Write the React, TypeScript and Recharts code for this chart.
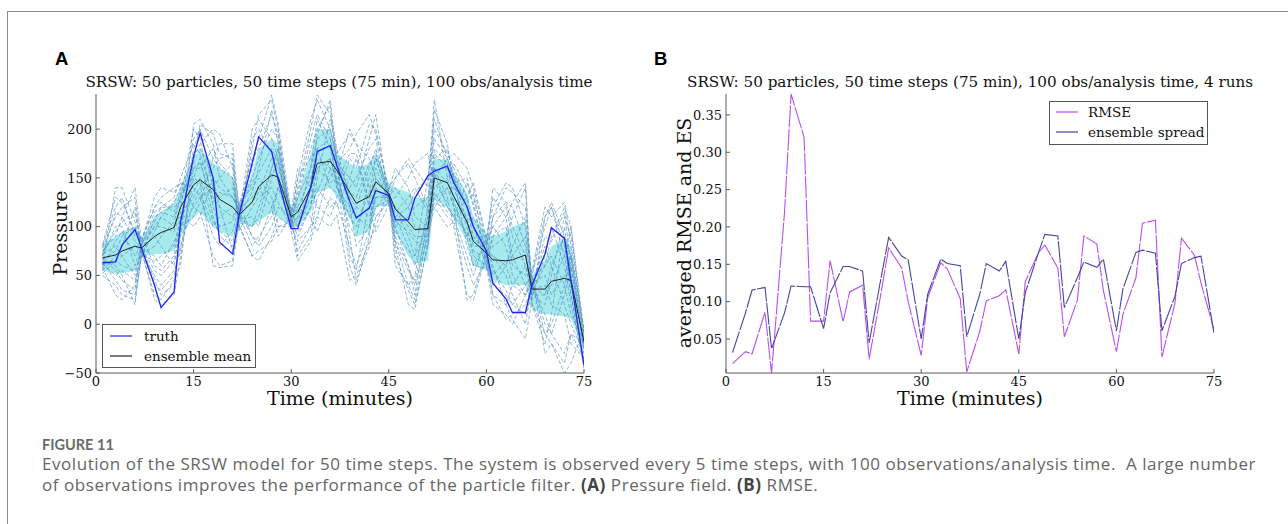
import React from "react"
import { Area, ComposedChart, Line, XAxis, YAxis } from "recharts"

// model output times (minutes), one per time step
const times = [1, 3, 4, 6, 7, 9, 10, 12, 13, 15, 16, 18, 19, 21, 22, 24, 25, 27, 28, 30, 31, 33, 34, 36, 37, 39, 40, 42, 43, 45, 46, 48, 49, 51, 52, 54, 55, 57, 58, 60, 61, 63, 64, 66, 67, 69, 70, 72, 73, 75]
const timeTicks = [0, 15, 30, 45, 60, 75]
const pressureTicks = [-50, 0, 50, 100, 150, 200]
const errorTicks = [0.05, 0.1, 0.15, 0.2, 0.25, 0.3, 0.35]

// panel A
const truth = [63, 64, 81, 97, 78, 40, 17, 33, 105, 172, 196, 150, 84, 72, 112, 165, 192, 177, 148, 98, 98, 140, 177, 183, 163, 126, 109, 119, 137, 132, 107, 107, 129, 152, 157, 162, 145, 121, 100, 75, 42, 26, 12, 12, 40, 72, 99, 88, 45, -42]
const ensembleMean = [68, 71, 75, 80, 78, 90, 94, 99, 120, 143, 148, 138, 128, 120, 112, 125, 141, 153, 151, 110, 115, 140, 165, 167, 158, 135, 124, 131, 146, 134, 118, 105, 97, 98, 150, 145, 131, 105, 85, 73, 66, 65, 66, 71, 36, 36, 44, 47, 45, -18]
const bandLow = [55, 52, 52, 55, 70, 72, 72, 75, 90, 110, 115, 100, 95, 90, 105, 100, 105, 115, 110, 100, 100, 115, 135, 140, 130, 110, 90, 95, 120, 122, 95, 70, 62, 65, 128, 120, 110, 85, 60, 55, 45, 40, 40, 40, 15, 10, 10, 8, 5, -25]
const bandHigh = [82, 90, 95, 100, 88, 110, 115, 125, 140, 170, 180, 165, 160, 150, 120, 155, 180, 190, 185, 118, 130, 175, 200, 200, 175, 165, 160, 165, 175, 145, 140, 135, 130, 130, 170, 168, 155, 135, 110, 92, 90, 95, 100, 105, 50, 65, 80, 88, 80, -12]

const particles = [
    [60, 140, 140, 105, 80, 45, 30, 40, 90, 205, 210, 185, 150, 130, 115, 90, 80, 100, 120, 110, 150, 210, 230, 200, 170, 120, 80, 100, 150, 130, 100, 60, 40, 90, 170, 180, 150, 120, 90, 70, 30, 20, 40, 60, 40, 10, -10, 30, 60, -30],
    [75, 90, 110, 140, 85, 120, 130, 140, 145, 120, 115, 70, 60, 65, 105, 180, 215, 230, 200, 105, 75, 100, 150, 210, 175, 195, 185, 140, 120, 128, 150, 165, 150, 120, 130, 110, 105, 60, 40, 65, 110, 140, 135, 120, 45, 60, 90, 120, 100, -20],
    [50, 40, 30, 25, 70, 95, 110, 125, 140, 170, 185, 200, 195, 160, 100, 70, 65, 90, 110, 100, 130, 180, 200, 225, 160, 90, 45, 80, 110, 125, 80, 20, 15, 85, 150, 170, 175, 160, 140, 85, 60, 20, 5, -15, 25, 110, 125, 90, 30, -45],
    [65, 60, 50, 20, 75, 25, 20, 30, 70, 150, 170, 110, 90, 80, 120, 160, 190, 235, 205, 115, 160, 140, 120, 110, 130, 170, 160, 205, 200, 135, 60, 40, 50, 120, 220, 185, 140, 100, 70, 60, 20, 10, 0, 30, 50, -30, -20, -50, -40, -5],
    [80, 120, 130, 90, 90, 60, 55, 70, 110, 130, 140, 160, 170, 175, 110, 100, 120, 160, 180, 100, 95, 120, 180, 190, 140, 110, 120, 160, 180, 130, 140, 120, 100, 95, 130, 140, 120, 90, 110, 80, 100, 120, 90, 60, 30, 20, 50, 110, 90, -10],
    [55, 70, 80, 120, 72, 80, 90, 105, 130, 200, 190, 120, 100, 105, 125, 140, 150, 130, 100, 100, 110, 160, 210, 180, 150, 60, 40, 90, 140, 125, 110, 80, 60, 110, 200, 175, 160, 130, 100, 60, 40, 60, 80, 110, 35, 40, 20, 10, -20, -35],
    [70, 100, 100, 60, 82, 100, 100, 95, 115, 100, 110, 150, 140, 130, 118, 130, 140, 120, 90, 112, 70, 90, 130, 150, 165, 180, 195, 215, 195, 138, 160, 140, 110, 100, 125, 120, 110, 70, 50, 90, 130, 110, 70, 40, 50, 100, 120, 80, 40, -15],
    [62, 50, 55, 45, 68, 110, 115, 110, 130, 160, 160, 180, 165, 150, 98, 190, 200, 175, 150, 118, 120, 110, 95, 130, 120, 150, 170, 120, 95, 122, 100, 110, 120, 130, 175, 160, 145, 150, 120, 70, 80, 90, 110, 140, 22, -10, 0, 40, 70, -25],
    [72, 80, 70, 50, 78, 70, 60, 85, 95, 180, 200, 140, 130, 140, 108, 110, 100, 150, 170, 98, 140, 200, 235, 215, 180, 130, 120, 110, 130, 130, 90, 60, 30, 110, 160, 130, 100, 30, 25, 72, 70, 50, 30, 0, 40, 80, 60, 20, 0, -30],
    [58, 30, 25, 40, 85, 130, 140, 135, 145, 140, 130, 90, 80, 95, 120, 150, 170, 200, 190, 108, 90, 120, 160, 170, 145, 100, 90, 150, 170, 128, 130, 150, 165, 175, 145, 125, 130, 110, 80, 80, 55, 35, 20, 10, 28, 70, 100, 60, 20, -40],
    [78, 110, 120, 130, 76, 40, 35, 50, 80, 125, 135, 100, 110, 120, 112, 80, 90, 110, 140, 103, 120, 150, 170, 160, 155, 200, 185, 170, 150, 132, 120, 100, 90, 90, 120, 100, 105, 130, 145, 88, 120, 145, 140, 100, 48, 0, -10, -30, -10, -20],
    [66, 75, 90, 100, 80, 90, 80, 60, 100, 110, 125, 170, 185, 185, 115, 125, 135, 170, 160, 115, 100, 130, 140, 120, 125, 80, 60, 95, 120, 136, 70, 35, 20, 80, 140, 150, 165, 140, 125, 62, 30, 5, 10, 20, 38, 30, 40, 70, 100, -8],
    [52, 65, 70, 80, 74, 30, 25, 45, 60, 175, 180, 150, 120, 75, 102, 70, 75, 85, 100, 105, 150, 170, 180, 140, 135, 140, 150, 180, 190, 124, 95, 75, 70, 100, 180, 165, 125, 90, 60, 58, 90, 100, 60, 50, 55, 120, 110, 125, 80, -12],
    [82, 130, 125, 95, 88, 120, 125, 115, 135, 150, 145, 60, 58, 60, 110, 200, 210, 190, 170, 95, 65, 85, 110, 100, 112, 45, 50, 85, 100, 140, 150, 170, 160, 140, 230, 150, 120, 25, 30, 78, 140, 125, 120, 80, 20, -20, 10, 100, 50, -45],
    [68, 55, 45, 35, 80, 115, 120, 130, 150, 185, 175, 130, 120, 110, 125, 90, 85, 120, 140, 116, 135, 190, 215, 190, 165, 150, 140, 190, 215, 128, 120, 90, 70, 150, 190, 170, 150, 80, 60, 85, 100, 80, 50, 30, 42, 50, 30, 50, 70, -22],
    [74, 95, 105, 115, 79, 55, 50, 65, 100, 120, 130, 140, 150, 165, 122, 170, 180, 215, 195, 102, 110, 125, 135, 170, 145, 175, 175, 125, 110, 127, 105, 95, 85, 80, 160, 145, 155, 120, 100, 66, 50, 65, 70, 90, 33, 60, 70, 40, 10, -18],
    [57, 85, 95, 70, 83, 105, 120, 120, 125, 165, 205, 195, 175, 170, 96, 120, 130, 140, 125, 100, 85, 100, 110, 160, 140, 120, 110, 100, 130, 133, 85, 40, 25, 95, 135, 115, 110, 145, 130, 82, 110, 125, 100, 70, 36, 90, 85, 115, 60, -28],
    [64, 45, 35, 30, 71, 65, 70, 80, 110, 135, 150, 105, 95, 85, 113, 135, 160, 220, 185, 109, 130, 160, 190, 200, 170, 70, 55, 125, 160, 126, 110, 120, 135, 150, 210, 170, 150, 105, 90, 76, 70, 60, 40, 30, 44, -10, -20, -40, -10, -35],
    [70, 115, 110, 85, 77, 100, 110, 100, 120, 190, 200, 170, 160, 150, 104, 100, 110, 160, 180, 106, 100, 140, 160, 145, 150, 110, 100, 135, 170, 131, 115, 130, 140, 115, 120, 140, 140, 125, 135, 70, 90, 110, 125, 145, 30, 30, 60, 90, 70, -5],
    [61, 65, 60, 55, 73, 50, 40, 55, 75, 160, 165, 125, 135, 130, 117, 145, 155, 180, 165, 113, 105, 140, 195, 230, 170, 135, 130, 165, 175, 137, 85, 55, 45, 100, 155, 120, 110, 95, 75, 68, 40, 30, 20, 40, 52, 110, 120, 70, 30, -38],
]

// panel B
const rmse = [0.017, 0.033, 0.030, 0.086, 0.0045, 0.22, 0.378, 0.320, 0.074, 0.074, 0.155, 0.073, 0.113, 0.122, 0.023, 0.12, 0.172, 0.145, 0.10, 0.028, 0.105, 0.152, 0.144, 0.104, 0.006, 0.06, 0.101, 0.108, 0.116, 0.030, 0.127, 0.165, 0.176, 0.145, 0.053, 0.102, 0.188, 0.177, 0.115, 0.033, 0.083, 0.132, 0.205, 0.209, 0.026, 0.098, 0.185, 0.162, 0.125, 0.062]
const spread = [0.032, 0.085, 0.1155, 0.119, 0.037, 0.085, 0.121, 0.120, 0.120, 0.064, 0.112, 0.147, 0.147, 0.141, 0.045, 0.14, 0.186, 0.161, 0.156, 0.050, 0.110, 0.157, 0.151, 0.148, 0.053, 0.11, 0.151, 0.141, 0.154, 0.050, 0.112, 0.165, 0.190, 0.188, 0.092, 0.132, 0.153, 0.146, 0.157, 0.061, 0.117, 0.166, 0.169, 0.165, 0.061, 0.107, 0.151, 0.159, 0.161, 0.058]

const pressureRows = times.map((t, i) => {
    const row: Record<string, any> = { t, truth: truth[i], mean: ensembleMean[i], band: [bandLow[i], bandHigh[i]] }
    particles.forEach((p, k) => { row[`p${k}`] = p[i] })
    return row
})
const errorRows = times.map((t, i) => ({ t, rmse: rmse[i], spread: spread[i] }))

const serif = "'DejaVu Serif', serif"
const frame = "#5a5a5a"
const tickStyle = { fill: "#111", fontSize: 13, fontFamily: serif }

function Txt({ x, y, w, h = 24, size, children, rotate, align = "center", style }: any) {
    return (
        <div
            style={{
                position: "absolute",
                left: align === "left" ? x : x - w / 2,
                top: y - h / 2,
                width: w,
                height: h,
                lineHeight: `${h}px`,
                fontSize: size,
                fontFamily: serif,
                color: "#111",
                textAlign: align,
                whiteSpace: "nowrap",
                transform: rotate ? `rotate(${rotate}deg)` : undefined,
                ...style,
            }}
        >
            {children}
        </div>
    )
}

function Frame({ ticksY, domainY, fmt }: any) {
    return [
        <XAxis key="xb" xAxisId="b" dataKey="t" type="number" domain={[0, 75]} ticks={timeTicks} interval={0}
            allowDataOverflow tickSize={-4} tickMargin={8} height={30} stroke={frame} tick={tickStyle} />,
        <XAxis key="xt" xAxisId="t" orientation="top" dataKey="t" type="number" domain={[0, 75]} ticks={timeTicks}
            interval={0} allowDataOverflow tickSize={-4} height={0} stroke={frame} tick={false} />,
        <YAxis key="yl" yAxisId="l" type="number" domain={domainY} ticks={ticksY} interval={0} allowDataOverflow
            tickSize={-4} tickMargin={8} width={50} stroke={frame} tick={tickStyle} tickFormatter={fmt} />,
        <YAxis key="yr" yAxisId="r" orientation="right" type="number" domain={domainY} ticks={ticksY} interval={0}
            allowDataOverflow tickSize={-4} width={0} stroke={frame} tick={false} />,
    ]
}

function LegendSwatch({ color }: any) {
    return (
        <svg width={22} height={4} style={{ display: "block" }}>
            <line x1={0} y1={2} x2={22} y2={2} stroke={color} strokeWidth={1.2} />
        </svg>
    )
}

export default function App() {
    return (
        <div style={{ position: "absolute", left: 0, top: 0, width: 1288, height: 524, overflow: "hidden", background: "#fff" }}>
            <div style={{ position: "absolute", left: 7, top: 11, width: 1400, height: 700, border: "1.5px solid #8c8c8c" }} />

            <div style={{ position: "absolute", left: 55, top: 48, fontFamily: "'Liberation Sans', Arial, sans-serif", fontWeight: 700, fontSize: 18.5 }}>A</div>
            <div style={{ position: "absolute", left: 654, top: 48, fontFamily: "'Liberation Sans', Arial, sans-serif", fontWeight: 700, fontSize: 18.5 }}>B</div>

            <Txt x={339} y={82} w={620} size={15.2}>SRSW: 50 particles, 50 time steps (75 min), 100 obs/analysis time</Txt>
            <Txt x={970} y={82} w={660} size={15.2}>SRSW: 50 particles, 50 time steps (75 min), 100 obs/analysis time, 4 runs</Txt>

            <div style={{ position: "absolute", left: 0, top: 0 }}>
                <ComposedChart width={640} height={420} data={pressureRows} margin={{ top: 94, right: 56, bottom: 17, left: 46 }}>
                    {Frame({ ticksY: pressureTicks, domainY: [-50, 236], fmt: (v: number) => (v < 0 ? `\u2212${-v}` : `${v}`) })}
                    {particles.map((_, k) => (
                        <Line key={k} xAxisId="b" yAxisId="l" type="linear" dataKey={`p${k}`} stroke="#4f8cc0"
                            strokeOpacity={0.7} strokeWidth={0.9} strokeDasharray="4 2" dot={false} isAnimationActive={false} />
                    ))}
                    <Area xAxisId="b" yAxisId="l" type="linear" dataKey="band" stroke="none" fill="#5fd8e0"
                        fillOpacity={0.55} isAnimationActive={false} />
                    <Line xAxisId="b" yAxisId="l" type="linear" dataKey="mean" stroke="#222" strokeWidth={1}
                        dot={false} isAnimationActive={false} />
                    <Line xAxisId="b" yAxisId="l" type="linear" dataKey="truth" stroke="#2323f0" strokeWidth={1.3}
                        dot={false} isAnimationActive={false} />
                </ComposedChart>
            </div>

            <div style={{ position: "absolute", left: 640, top: 0 }}>
                <ComposedChart width={648} height={420} data={errorRows} margin={{ top: 94, right: 74, bottom: 17, left: 36 }}>
                    {Frame({ ticksY: errorTicks, domainY: [0.0045, 0.378], fmt: (v: number) => v.toFixed(2) })}
                    <Line xAxisId="b" yAxisId="l" type="linear" dataKey="rmse" stroke="#b94ff0" strokeWidth={1.1}
                        strokeDasharray="22 1.5" dot={false} isAnimationActive={false} />
                    <Line xAxisId="b" yAxisId="l" type="linear" dataKey="spread" stroke="#45459e" strokeWidth={1.1}
                        strokeDasharray="22 1.5" dot={false} isAnimationActive={false} />
                </ComposedChart>
            </div>

            <Txt x={60} y={233} w={140} h={26} size={19} rotate={-90}>Pressure</Txt>
            <Txt x={340} y={398} w={240} h={26} size={19}>Time (minutes)</Txt>
            <Txt x={684} y={233} w={260} h={26} size={19} rotate={-90}>averaged RMSE and ES</Txt>
            <Txt x={970} y={398} w={240} h={26} size={19}>Time (minutes)</Txt>

            {/* legend A */}
            <div style={{ position: "absolute", left: 102, top: 324, width: 152, height: 42, background: "#fff", border: "1px solid #555" }} />
            <div style={{ position: "absolute", left: 110, top: 334 }}><LegendSwatch color="#2323f0" /></div>
            <div style={{ position: "absolute", left: 110, top: 354 }}><LegendSwatch color="#222" /></div>
            <Txt x={144} y={336} w={110} h={20} size={13.5} align="left">truth</Txt>
            <Txt x={144} y={355.5} w={110} h={20} size={13.5} align="left">ensemble mean</Txt>

            {/* legend B */}
            <div style={{ position: "absolute", left: 1049, top: 101, width: 157, height: 42, background: "#fff", border: "1px solid #555" }} />
            <div style={{ position: "absolute", left: 1056, top: 110 }}><LegendSwatch color="#b94ff0" /></div>
            <div style={{ position: "absolute", left: 1056, top: 130 }}><LegendSwatch color="#45459e" /></div>
            <Txt x={1088} y={112} w={115} h={20} size={13.5} align="left">RMSE</Txt>
            <Txt x={1088} y={131.5} w={115} h={20} size={13.5} align="left">ensemble spread</Txt>

            {/* caption */}
            <div style={{ position: "absolute", left: 42, top: 435, fontFamily: "Lato, sans-serif", fontWeight: 700, fontSize: 14.5, color: "#6b6b6b", lineHeight: "20px" }}>FIGURE 11</div>
            <div style={{ position: "absolute", left: 42, top: 454, width: 1250, fontFamily: "'Open Sans', sans-serif", fontSize: 17, letterSpacing: "0.55px", color: "#666", lineHeight: "20.5px", whiteSpace: "nowrap" }}>
                <div>Evolution of the SRSW model for 50 time steps. The system is observed every 5 time steps, with 100 observations/analysis time.&nbsp; A large number</div>
                <div>of observations improves the performance of the particle filter. <b style={{ color: "#444" }}>(A)</b> Pressure field. <b style={{ color: "#444" }}>(B)</b> RMSE.</div>
            </div>
        </div>
    )
}
